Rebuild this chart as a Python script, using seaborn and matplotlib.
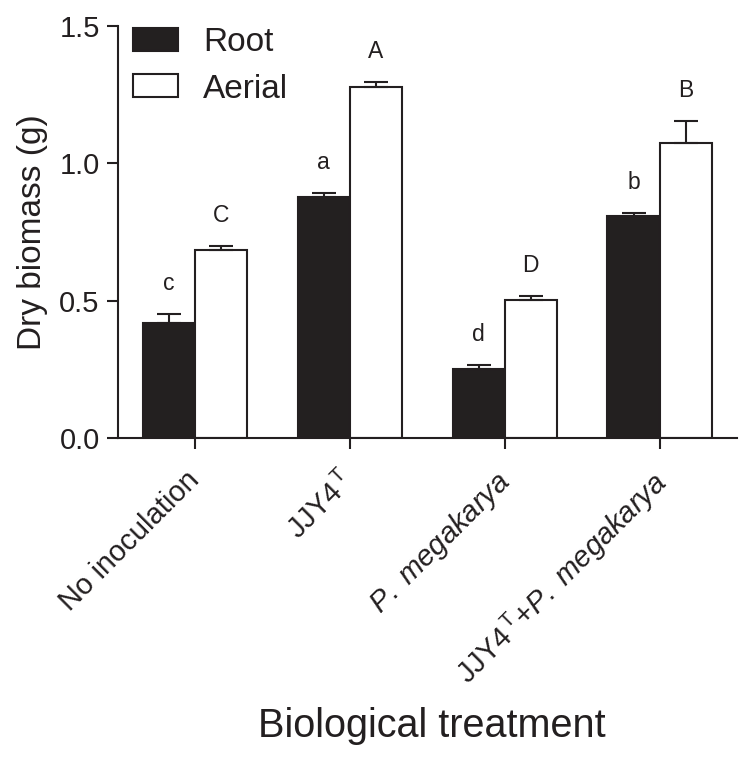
import numpy as np
import pandas as pd
import seaborn as sns
import matplotlib.pyplot as plt
from matplotlib.transforms import ScaledTranslation

treatments = ['No inoculation', 'JJY4T', 'P. megakarya', 'JJY4T+P. megakarya']
tick_labels = [
    'No inoculation',
    r'JJY4$^{\,\mathrm{T}}$',
    r'$\mathit{P.\ megakarya}$',
    r'JJY4$^{\,\mathrm{T}}$+$\mathit{P.\ megakarya}$',
]
root = [0.418, 0.879, 0.251, 0.809]
root_err = [0.033, 0.014, 0.014, 0.011]
aerial = [0.684, 1.278, 0.502, 1.073]
aerial_err = [0.016, 0.020, 0.014, 0.082]
root_letters = ['c', 'a', 'd', 'b']
aerial_letters = ['C', 'A', 'D', 'B']

ink = '#231f20'

sns.set_style('ticks')
plt.rcParams['font.family'] = ['Liberation Sans', 'DejaVu Sans']
plt.rcParams['mathtext.fontset'] = 'custom'
plt.rcParams['mathtext.rm'] = 'Liberation Sans'
plt.rcParams['mathtext.it'] = 'Liberation Sans:italic'

df = pd.DataFrame({
    'treatment': treatments * 2,
    'tissue': ['Root'] * 4 + ['Aerial'] * 4,
    'biomass': root + aerial,
    'err': root_err + aerial_err,
    'letter': root_letters + aerial_letters,
})

fig = plt.figure(figsize=(7.52, 7.61), dpi=100)
ax = fig.add_axes([0.1565, 0.4244, 0.8235, 0.5414])

sns.barplot(data=df, x='treatment', y='biomass', hue='tissue', order=treatments,
            hue_order=['Root', 'Aerial'], palette={'Root': ink, 'Aerial': 'white'},
            width=0.673, errorbar=None, edgecolor=ink, linewidth=1.5, ax=ax)

# error bars (upper only) and significance letters
for cont, tissue in zip(ax.containers, ['Root', 'Aerial']):
    sub = df[df['tissue'] == tissue]
    for bar, e, lab in zip(cont, sub['err'], sub['letter']):
        xc = bar.get_x() + bar.get_width() / 2
        h = bar.get_height()
        ax.errorbar(xc, h, yerr=[[0], [e]], fmt='none', ecolor=ink,
                    elinewidth=1.5, capsize=8.6, capthick=1.5, zorder=1)
        ax.text(xc, h + e + 0.087, lab, ha='center', va='baseline',
                fontsize=16.5, color=ink)

ax.set_ylim(0, 1.5)
ax.set_xlim(-0.5, 3.5)
ax.set_yticks([0.0, 0.5, 1.0, 1.5])
ax.set_yticklabels(['0.0', '0.5', '1.0', '1.5'])
ax.set_xticks(range(4))
ax.set_xticklabels(tick_labels, rotation=45, ha='right', rotation_mode='anchor')

sns.despine(ax=ax)
for s in ['left', 'bottom']:
    ax.spines[s].set_linewidth(1.5)
    ax.spines[s].set_color(ink)
ax.tick_params(axis='both', length=8, width=1.5, color=ink, labelsize=21,
               labelcolor=ink, pad=5)

# push rotated labels a little further down-left, as in the original
shift = ScaledTranslation(-7 / 72, -7 / 72, fig.dpi_scale_trans)
for lbl in ax.get_xticklabels():
    lbl.set_transform(lbl.get_transform() + shift)

ax.set_ylabel('Dry biomass (g)', fontsize=24, color=ink)
ax.yaxis.set_label_coords(-0.113, 0.5)
ax.set_xlabel('Biological treatment', fontsize=28.5, color=ink)
ax.xaxis.label.set_va('baseline')
ax.xaxis.set_label_coords(0.508, -0.726)

leg = ax.legend(loc='upper left', bbox_to_anchor=(0.025, 0.998), frameon=False,
                fontsize=24, handlelength=1.35, handleheight=0.69,
                handletextpad=0.75, labelspacing=0.47, borderpad=0, borderaxespad=0)
for t in leg.get_texts():
    t.set_color(ink)

fig.savefig('out.png', dpi=100)
